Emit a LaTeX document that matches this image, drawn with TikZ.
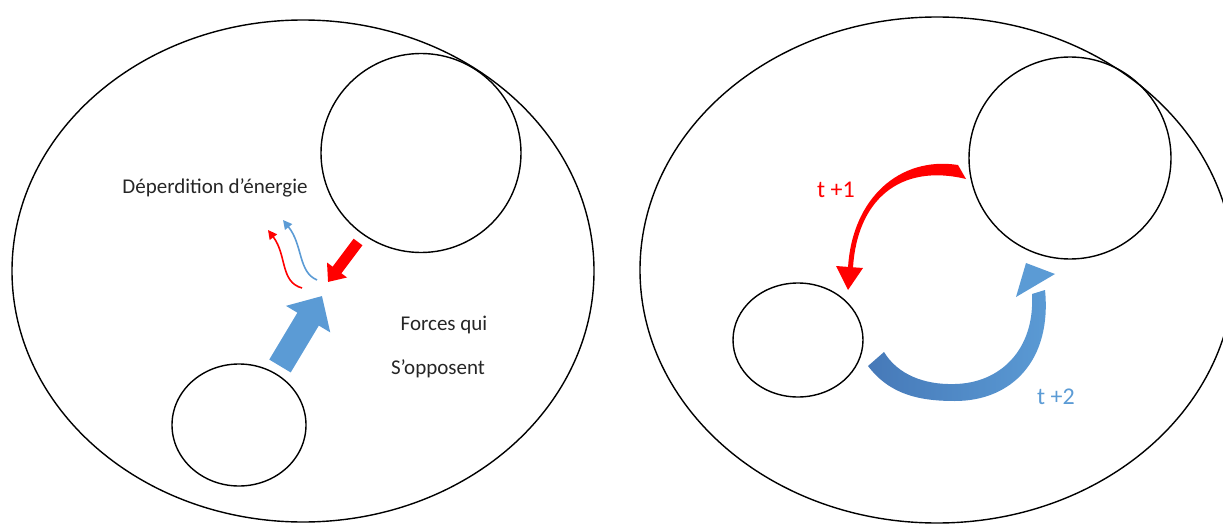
\documentclass[tikz,border=0pt]{standalone}
\usepackage{fontspec}
\setmainfont{Carlito}
\usetikzlibrary{shapes.geometric,arrows.meta}
\definecolor{lossred}{HTML}{FF0000}
\definecolor{pushblue}{HTML}{5B9BD5}
\definecolor{deepblue}{HTML}{4679B8}
\begin{document}
\begin{tikzpicture}[x=1pt,y=-1pt,
    zone/.style={draw, ellipse, line width=1.4pt, inner sep=0pt},
    txt/.style={font=\fontsize{21}{25}\selectfont, text=black!85},
    thin arrow/.style={line width=1.6pt, -{Triangle[width=9pt,length=9pt]}}]
  \useasboundingbox (0,0) rectangle (1223,524);

  % left situation
  \node[zone, minimum width=582pt, minimum height=502pt] (envL) at (303,271) {};
  \node[zone, minimum width=200pt, minimum height=199pt] (bigL) at (421,153) {};
  \node[zone, minimum width=134pt, minimum height=122pt] (smallL) at (239,425) {};

  \node[txt] (loss) at (215,188) {Déperdition d’énergie};
  \node[txt] (forces) at (444,325) {Forces qui};
  \node[txt] (oppose) at (438,369) {S’opposent};

  \coordinate (pushTail) at (280,366);
  \coordinate (pushTip) at (322,296);
  \coordinate (backTail) at (358,242);
  \coordinate (backTip) at (328,282);
  \draw[pushblue, line width=25pt, -{Triangle[width=50pt,length=27pt]}] (pushTail) -- (pushTip);
  \draw[lossred, line width=11pt, -{Triangle[width=24pt,length=15pt]}] (backTail) -- (backTip);

  \coordinate (lossRedStart) at (302,288);
  \coordinate (lossRedEnd) at (268,230);
  \coordinate (lossBlueStart) at (317,280);
  \coordinate (lossBlueEnd) at (283,220);
  \draw[lossred, thin arrow] (lossRedStart) .. controls (280,282) and (287,255) .. (lossRedEnd);
  \draw[pushblue, thin arrow] (lossBlueStart) .. controls (298,272) and (303,245) .. (lossBlueEnd);

  % right situation
  \node[zone, minimum width=594pt, minimum height=506pt] (envR) at (937,270) {};
  \node[zone, minimum width=202pt, minimum height=202pt] (bigR) at (1070,158) {};
  \node[zone, minimum width=130pt, minimum height=114pt] (smallR) at (798,340) {};

  \node[txt, text=lossred, font=\fontsize{24}{28}\selectfont] (step1) at (836,190) {t +1};
  \node[txt, text=pushblue, font=\fontsize{24}{28}\selectfont] (step2) at (1056,397) {t +2};

  % t+1 : from the big circle to the small one
  \fill[lossred] (958,165) .. controls (900,156) and (852,198) .. (848,268)
    -- (853,268) .. controls (857,200) and (900,163) .. (966,179) -- cycle;
  \fill[lossred] (836,266) -- (863,268) -- (848,290) -- cycle;

  % t+2 : from the small circle back to the big one
  \shade[left color=deepblue, right color=pushblue]
    (868,366) .. controls (890,395) and (920,401) .. (955,401)
    .. controls (1012,401) and (1052,360) .. (1045,290)
    -- (1032,294) .. controls (1035,350) and (1000,383) .. (955,384)
    .. controls (925,385) and (898,375) .. (884,352) -- cycle;
  \fill[pushblue] (1016,297) -- (1055,274) -- (1026,263) -- cycle;
\end{tikzpicture}
\end{document}
